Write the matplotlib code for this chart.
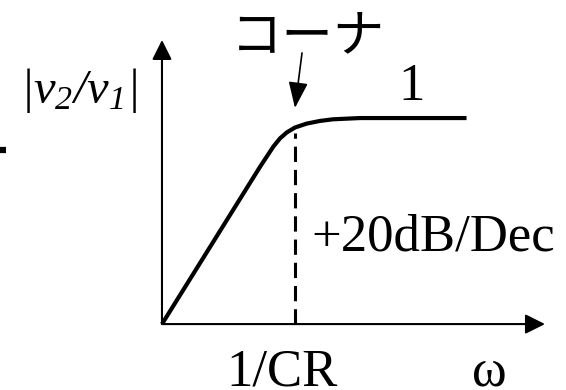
import numpy as np
import matplotlib
matplotlib.use("Agg")
import matplotlib.pyplot as plt

# mathtext only used for |v2/v1|, where digits are italic too
plt.rcParams["mathtext.fontset"] = "custom"
plt.rcParams["mathtext.rm"] = "Liberation Serif:italic"
plt.rcParams["mathtext.it"] = "Liberation Serif:italic"

# ─────────────────────────────────────────────
# DATA  (omega in units of 1/CR, magnitude normalised to 1)
# ─────────────────────────────────────────────
omega = [0.0, 0.737, 0.837, 0.887, 0.938, 1.0, 1.088, 1.188, 1.286, 1.489, 2.29]
gain = [0.0, 0.763, 0.861, 0.901, 0.930, 0.954, 0.973, 0.986, 0.994, 1.0, 1.0]

corner_w = 1.0          # 1/CR
corner_top = 0.927      # top of dashed marker
x_axis_end = 2.88
y_axis_end = 1.379

SERIF = "Liberation Serif"
JP = ["Noto Sans CJK JP", "DejaVu Sans"]

fig = plt.figure(figsize=(5.66, 3.90), dpi=100)
ax = fig.add_axes([0, 0, 1, 1])
ax.set_xlim(-1.218, 3.038)
ax.set_ylim(-0.320, 1.573)
ax.axis("off")

# axes with arrows
arrow_kw = dict(arrowstyle="-|>,head_length=0.6,head_width=0.3", color="black",
                lw=1.5, mutation_scale=20, shrinkA=0, shrinkB=0)
ax.annotate("", xy=(0, y_axis_end), xytext=(0, 0), arrowprops=arrow_kw)
ax.annotate("", xy=(x_axis_end, 0), xytext=(0, 0), arrowprops=arrow_kw)

# response curve
ax.plot(omega, gain, color="black", lw=3.0, solid_capstyle="butt", solid_joinstyle="round")

# corner marker
ax.plot([corner_w, corner_w], [0, corner_top], color="black", lw=2.2,
        dashes=(5, 2.6))

# stray dash at left edge
ax.plot([-1.218, -1.173], [0.845, 0.845], color="black", lw=4.5, solid_capstyle="butt")

# corner pointer
ax.annotate("", xy=(corner_w, 1.049), xytext=(1.053, 1.316),
            arrowprops=dict(arrowstyle="-|>,head_length=0.8,head_width=0.3",
                            color="black", lw=1.2, mutation_scale=20,
                            shrinkA=0, shrinkB=0))

# labels
ax.text(1.10, 1.39, "コーナ", family=JP, fontsize=37, ha="center", va="center")
ax.text(-0.19, 1.135, r"$|v_{2}/v_{1}|$", fontsize=35,
        ha="right", va="center")
ax.text(1.88, 1.09, "1", family=SERIF, fontsize=38, ha="center", va="baseline")
ax.text(1.12, 0.42, "+20dB/Dec", family=SERIF, fontsize=38, ha="left", va="center")
ax.text(0.905, -0.297, "1/CR", family=SERIF, fontsize=38, ha="center", va="baseline")
ax.text(2.459, -0.297, "ω", family=SERIF, fontsize=38, ha="center", va="baseline")

fig.savefig("out.png", dpi=100)
